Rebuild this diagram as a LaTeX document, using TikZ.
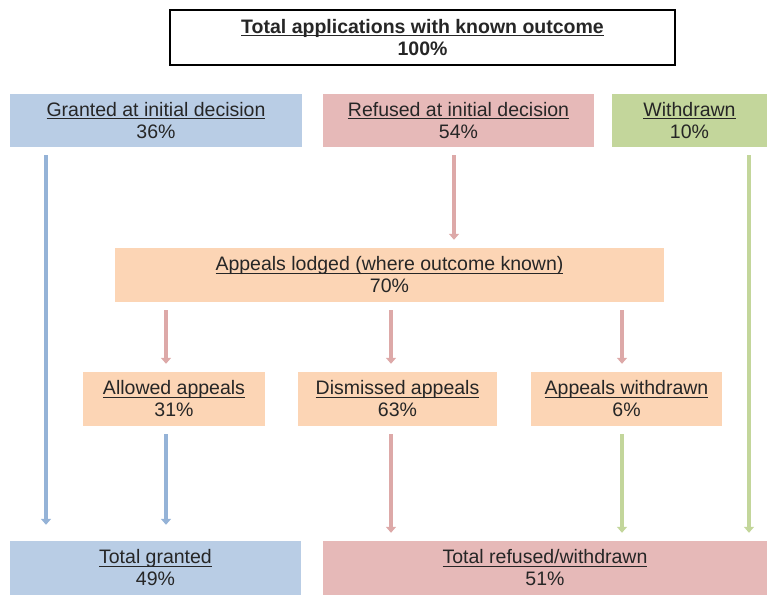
\documentclass[tikz,border=0pt]{standalone}
\usepackage{fontspec}
\setmainfont{Liberation Sans}
\usetikzlibrary{arrows.meta}

\definecolor{grblue}{HTML}{B9CDE5}
\definecolor{grbluearr}{HTML}{95B3D7}
\definecolor{rfpink}{HTML}{E6B9B8}
\definecolor{rfpinkarr}{HTML}{DDA9A8}
\definecolor{wdgreen}{HTML}{C3D69B}
\definecolor{aporange}{HTML}{FCD5B5}

\newcommand{\undl}[1]{\setbox0\hbox{#1}\rlap{\rule[-3pt]{\wd0}{1.1pt}}\box0}

\begin{document}
\begin{tikzpicture}[x=1pt, y=-1pt,
	box/.style={rectangle, inner sep=0pt, align=center, text=black!85,
		font=\fontsize{19.5}{22}\selectfont},
	flow/.style={line width=4pt, -{Triangle[width=10pt,length=6pt]},
		shorten <=8pt, shorten >=16pt}]
	\useasboundingbox (0,0) rectangle (767,594);

	\node[box, draw=black, line width=1.1pt, fill=white, minimum width=505pt, minimum height=55pt,
		font=\fontsize{19.5}{22}\selectfont\bfseries] (total) at (422.5,37.5)
		{\undl{Total applications with known outcome}\\100\%};

	\node[box, fill=grblue, minimum width=292pt, minimum height=53pt] (granted) at (156,120.5)
		{\undl{Granted at initial decision}\\36\%};
	\node[box, fill=rfpink, minimum width=271pt, minimum height=53pt] (refused) at (458.5,120.5)
		{\undl{Refused at initial decision}\\54\%};
	\node[box, fill=wdgreen, minimum width=155pt, minimum height=53pt] (withdrawn) at (689.5,120.5)
		{\undl{Withdrawn}\\10\%};

	\node[box, fill=aporange, minimum width=549pt, minimum height=54pt] (lodged) at (389.5,275)
		{\undl{Appeals lodged (where outcome known)}\\70\%};

	\node[box, fill=aporange, minimum width=182pt, minimum height=54pt] (allowed) at (174,399)
		{\undl{Allowed appeals}\\31\%};
	\node[box, fill=aporange, minimum width=199pt, minimum height=54pt] (dismissed) at (397.5,399)
		{\undl{Dismissed appeals}\\63\%};
	\node[box, fill=aporange, minimum width=191pt, minimum height=54pt] (apwithdrawn) at (626.5,399)
		{\undl{Appeals withdrawn}\\6\%};

	\node[box, fill=grblue, minimum width=291pt, minimum height=54pt] (totgranted) at (155.5,568)
		{\undl{Total granted}\\49\%};
	\node[box, fill=rfpink, minimum width=444pt, minimum height=54pt] (totrefused) at (545,568)
		{\undl{Total refused/withdrawn}\\51\%};

	% arrow columns
	\coordinate (c1) at (46,0);
	\coordinate (c2) at (166,0);
	\coordinate (c3) at (391,0);
	\coordinate (c4) at (454,0);
	\coordinate (c5) at (622,0);
	\coordinate (c6) at (749,0);

	\draw[flow, grbluearr] (granted.south -| c1) -- (totgranted.north -| c1);
	\draw[flow, rfpinkarr, shorten >=8pt] (refused.south -| c4) -- (lodged.north -| c4);
	\draw[flow, wdgreen, shorten >=8pt] (withdrawn.south -| c6) -- (totrefused.north -| c6);

	\draw[flow, rfpinkarr, shorten >=8pt] (lodged.south -| c2) -- (allowed.north -| c2);
	\draw[flow, rfpinkarr, shorten >=8pt] (lodged.south -| c3) -- (dismissed.north -| c3);
	\draw[flow, rfpinkarr, shorten >=8pt] (lodged.south -| c5) -- (apwithdrawn.north -| c5);

	\draw[flow, grbluearr] (allowed.south -| c2) -- (totgranted.north -| c2);
	\draw[flow, rfpinkarr, shorten >=8pt] (dismissed.south -| c3) -- (totrefused.north -| c3);
	\draw[flow, wdgreen, shorten >=8pt] (apwithdrawn.south -| c5) -- (totrefused.north -| c5);
\end{tikzpicture}
\end{document}
